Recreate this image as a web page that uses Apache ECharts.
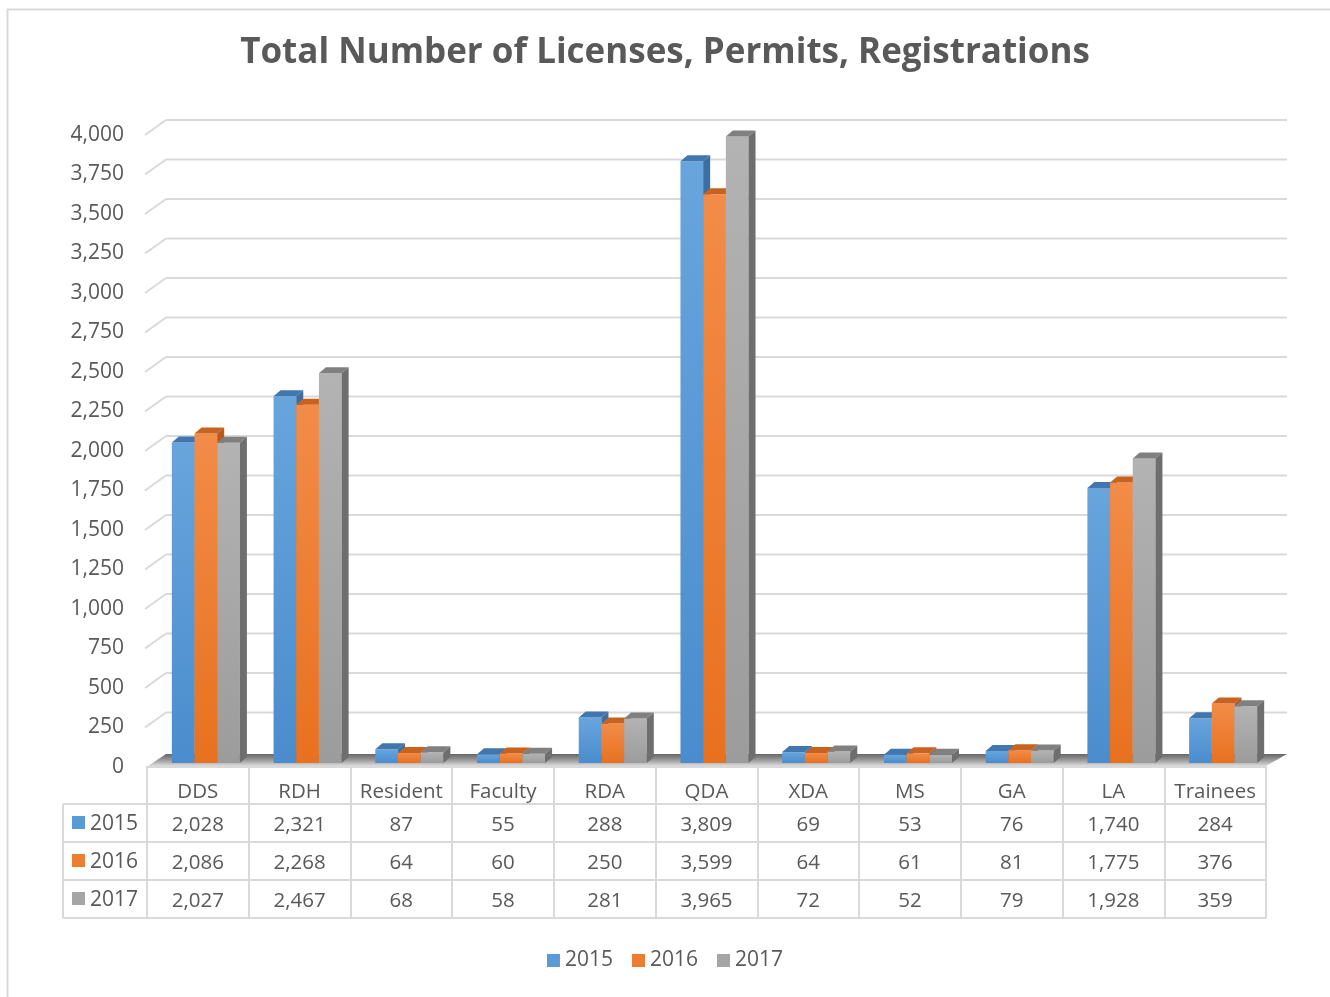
<!DOCTYPE html>
<html>
<head>
<meta charset="utf-8">
<script src="https://cdn.jsdelivr.net/npm/echarts@6/dist/echarts.min.js"></script>
<style>
  html, body { margin: 0; padding: 0; background: #fff; }
  #main { width: 1330px; height: 997px; }
</style>
</head>
<body>
<div id="main"></div>
<script>
var categories = ['DDS', 'RDH', 'Resident', 'Faculty', 'RDA', 'QDA', 'XDA', 'MS', 'GA', 'LA', 'Trainees'];
var years = ['2015', '2016', '2017'];
var values2015 = [2028, 2321, 87, 55, 288, 3809, 69, 53, 76, 1740, 284];
var values2016 = [2086, 2268, 64, 60, 250, 3599, 64, 61, 81, 1775, 376];
var values2017 = [2027, 2467, 68, 58, 281, 3965, 72, 52, 79, 1928, 359];
var yMax = 4000;
var yStep = 250;

var FONT = 'Open Sans';
var TXT = '#595959';
var LINE = '#d9d9d9';

// front/top/side shades per year
var palettes = [
	{ legend: '#5b9bd5', hi: '#68a5dd', lo: '#4a8ccd', top: '#4177ae', side: '#3b6ea3' },
	{ legend: '#ed7d31', hi: '#f28c48', lo: '#e8711f', top: '#c8631f', side: '#b5591c' },
	{ legend: '#a5a5a5', hi: '#b3b3b3', lo: '#9c9c9c', top: '#808080', side: '#6e6e6e' }
];
var seriesValues = [values2015, values2016, values2017];

function fmt(n) {
	return n.toLocaleString('en-US');
}

function barRenderer(k) {
	var pal = palettes[k];
	return function (params, api) {
		var i = api.value(0), v = api.value(1);
		var top = api.coord([i, v]);
		var base = api.coord([i, 0]);
		var w = api.size([1, 0])[0] * 0.223;
		var l = top[0] + 8 - 1.5 * w + k * w, r = l + w;
		var yt = top[1] - 4, yb = base[1] - 4;
		var dx = 7, dy = -6;
		return {
			type: 'group',
			children: [
				{ type: 'rect', shape: { x: l, y: yt, width: w, height: yb - yt },
				  style: { fill: new echarts.graphic.LinearGradient(0, 0, 0, 1, [
					{ offset: 0, color: pal.hi }, { offset: 1, color: pal.lo } ]) } },
				{ type: 'polygon', shape: { points: [[l, yt], [l + dx, yt + dy], [r + dx, yt + dy], [r, yt]] },
				  style: { fill: pal.top } },
				{ type: 'polygon', shape: { points: [[r, yt], [r + dx, yt + dy], [r + dx, yb + dy], [r, yb]] },
				  style: { fill: pal.side } }
			]
		};
	};
}

// back wall gridlines + side wall slants + floor
var tickData = [];
for (var t = 0; t <= yMax; t += yStep) tickData.push([0, t]);

function wallRenderer(params, api) {
	var cs = params.coordSys;
	var y = api.coord([0, api.value(1)])[1];
	var x0 = cs.x, x1 = cs.x + cs.width;
	var children = [];
	if (api.value(1) === 0) {
		children.push({
			type: 'polygon',
			shape: { points: [[x0 + 1, y - 1], [x1, y - 1], [x1 + 21, y - 13], [x0 + 19, y - 13]] },
			style: { fill: new echarts.graphic.LinearGradient(0, 0, 0, 1, [
				{ offset: 0, color: '#666666' }, { offset: 0.5, color: '#9a9a9a' }, { offset: 1, color: '#dcdcdc' } ]) }
		});
	} else {
		children.push({ type: 'line', shape: { x1: x0 - 2, y1: y, x2: x0 + 19, y2: y - 15 },
			style: { stroke: LINE, lineWidth: 2 } });
		children.push({ type: 'line', shape: { x1: x0 + 19, y1: y - 15, x2: x1 + 21, y2: y - 15 },
			style: { stroke: LINE, lineWidth: 2 } });
	}
	return { type: 'group', children: children };
}

// floor (tick 0) goes last so it sits over the gridlines
var series = [{
	type: 'custom',
	name: 'wall',
	silent: true,
	z: 1,
	renderItem: wallRenderer,
	data: tickData.slice(1).concat([tickData[0]]),
	encode: { x: 0, y: 1 }
}];

years.forEach(function (yr, k) {
	series.push({
		type: 'custom',
		name: yr,
		z: 3,
		itemStyle: { color: palettes[k].legend },
		renderItem: barRenderer(k),
		encode: { x: 0, y: 1 },
		data: seriesValues[k].map(function (v, i) { return [i, v]; })
	});
});

// table frame and row headers
var graphics = [
	{ type: 'rect', left: 5, top: 7, shape: { width: 1340, height: 1000 },
	  style: { fill: 'none', stroke: LINE, lineWidth: 2 }, silent: true }
];
var rowLines = [804, 842, 880, 918];
rowLines.forEach(function (y) {
	graphics.push({ type: 'line', shape: { x1: 63, y1: y, x2: 1266, y2: y },
		style: { stroke: LINE, lineWidth: 2 }, silent: true });
});
graphics.push({ type: 'line', shape: { x1: 63, y1: 804, x2: 63, y2: 918 },
	style: { stroke: LINE, lineWidth: 2 }, silent: true });
years.forEach(function (yr, k) {
	var cy = 823 + k * 38;
	graphics.push({ type: 'rect', shape: { x: 72, y: cy - 7, width: 13, height: 13 },
		style: { fill: palettes[k].legend }, silent: true });
	graphics.push({ type: 'text', x: 90, y: cy + 1,
		style: { text: yr, font: '21px "' + FONT + '"', fill: TXT, verticalAlign: 'middle' }, silent: true });
});

var myChart = echarts.init(document.getElementById('main'));
myChart.setOption({
	animation: false,
	backgroundColor: '#fff',
	textStyle: { fontFamily: FONT },
	title: {
		text: 'Total Number of Licenses, Permits, Registrations',
		left: 'center',
		top: 31,
		textStyle: { fontFamily: FONT, fontSize: 35, fontWeight: 'bold', color: TXT }
	},
	legend: {
		data: years,
		bottom: 21,
		left: 'center',
		icon: 'rect',
		itemWidth: 13,
		itemHeight: 13,
		itemGap: 19,
		textStyle: { fontSize: 21, color: TXT, fontFamily: FONT }
	},
	grid: { left: 147, right: 64, top: 135, bottom: 230, containLabel: false },
	xAxis: {
		type: 'category',
		data: categories,
		axisLine: { show: true, lineStyle: { color: LINE, width: 2 } },
		axisTick: { show: true, length: 151, interval: 0, lineStyle: { color: LINE, width: 2 } },
		axisLabel: {
			interval: 0,
			margin: 11,
			color: TXT,
			fontFamily: FONT,
			fontSize: 20,
			formatter: function (val, idx) {
				return '{h|' + val + '}\n{v|' + fmt(values2015[idx]) + '}\n{v|' +
					fmt(values2016[idx]) + '}\n{v|' + fmt(values2017[idx]) + '}';
			},
			rich: {
				h: { fontSize: 20.5, lineHeight: 28, color: TXT, fontFamily: FONT },
				v: { fontSize: 20.5, lineHeight: 38, color: TXT, fontFamily: FONT }
			}
		}
	},
	yAxis: {
		type: 'value',
		min: 0,
		max: yMax,
		interval: yStep,
		axisLine: { show: false },
		axisTick: { show: false },
		splitLine: { show: false },
		axisLabel: {
			margin: 23,
			padding: [4, 0, 0, 0],
			color: TXT,
			fontFamily: FONT,
			fontSize: 21,
			formatter: function (v) { return fmt(v); }
		}
	},
	graphic: graphics,
	series: series
});
</script>
</body>
</html>
